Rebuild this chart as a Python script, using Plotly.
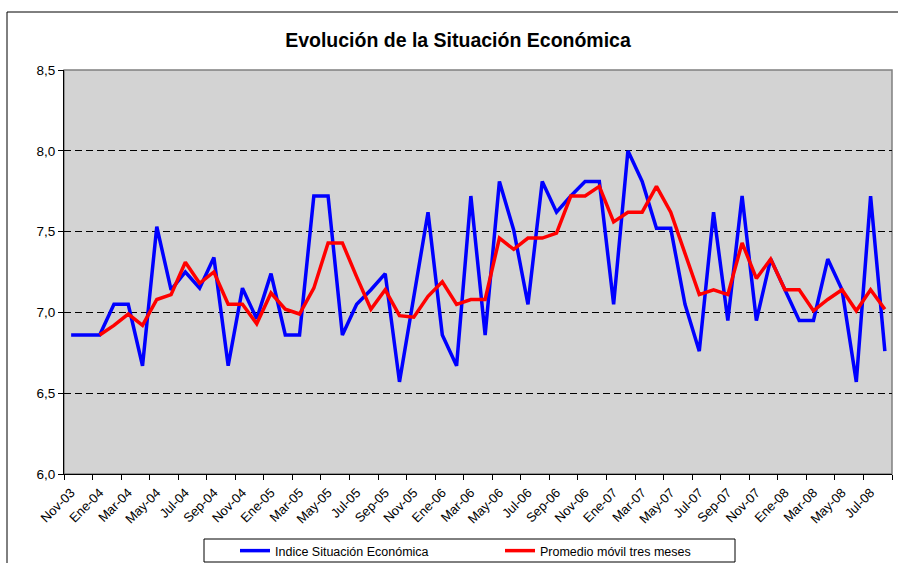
import plotly.graph_objects as go

months = [
    "Nov-03", "Dic-03",
    "Ene-04", "Feb-04", "Mar-04", "Abr-04", "May-04", "Jun-04", "Jul-04", "Ago-04", "Sep-04", "Oct-04", "Nov-04", "Dic-04",
    "Ene-05", "Feb-05", "Mar-05", "Abr-05", "May-05", "Jun-05", "Jul-05", "Ago-05", "Sep-05", "Oct-05", "Nov-05", "Dic-05",
    "Ene-06", "Feb-06", "Mar-06", "Abr-06", "May-06", "Jun-06", "Jul-06", "Ago-06", "Sep-06", "Oct-06", "Nov-06", "Dic-06",
    "Ene-07", "Feb-07", "Mar-07", "Abr-07", "May-07", "Jun-07", "Jul-07", "Ago-07", "Sep-07", "Oct-07", "Nov-07", "Dic-07",
    "Ene-08", "Feb-08", "Mar-08", "Abr-08", "May-08", "Jun-08", "Jul-08", "Ago-08",
]

indice = [
    6.86, 6.86, 6.86, 7.05, 7.05, 6.67, 7.53, 7.14, 7.25, 7.15,
    7.34, 6.67, 7.15, 6.96, 7.24, 6.86, 6.86, 7.72, 7.72, 6.86,
    7.05, 7.14, 7.24, 6.57, 7.10, 7.62, 6.86, 6.67, 7.72, 6.86,
    7.81, 7.51, 7.05, 7.81, 7.62, 7.72, 7.81, 7.81, 7.05, 8.00,
    7.81, 7.52, 7.52, 7.05, 6.76, 7.62, 6.95, 7.72, 6.95, 7.33,
    7.14, 6.95, 6.95, 7.33, 7.14, 6.57, 7.72, 6.76,
]

promedio = [
    None, None, 6.86, 6.92, 6.99, 6.92, 7.08, 7.11, 7.31, 7.18,
    7.25, 7.05, 7.05, 6.93, 7.12, 7.02, 6.99, 7.15, 7.43, 7.43,
    7.22, 7.02, 7.14, 6.98, 6.97, 7.10, 7.19, 7.05, 7.08, 7.08,
    7.46, 7.39, 7.46, 7.46, 7.49, 7.72, 7.72, 7.78, 7.56, 7.62,
    7.62, 7.78, 7.62, 7.36, 7.11, 7.14, 7.11, 7.43, 7.21, 7.33,
    7.14, 7.14, 7.01, 7.08, 7.14, 7.01, 7.14, 7.02,
]

y_ticks = [6.0, 6.5, 7.0, 7.5, 8.0, 8.5]

xs = list(range(len(months)))
FONT = "Arial, Liberation Sans, sans-serif"

fig = go.Figure()
fig.add_trace(go.Scatter(x=xs, y=indice, mode="lines", name="Indice Situación Económica",
                         line=dict(color="#0000FF", width=3.5)))
fig.add_trace(go.Scatter(x=xs, y=promedio, mode="lines", name="Promedio móvil tres meses",
                         line=dict(color="#FF0000", width=3.5)))

W, H = 898, 563
L, R, T, B = 64, 6, 70, 89
pw, ph = W - L - R, H - T - B

def px_x(p):
    return (p - L) / pw

def px_y(p):
    return (H - B - p) / ph

fig.update_layout(
    width=W, height=H,
    margin=dict(l=L, r=R, t=T, b=B, pad=0, autoexpand=False),
    paper_bgcolor="white",
    plot_bgcolor="#d3d3d3",
    separators=",.",
    font=dict(family=FONT, color="black"),
    title=dict(text="<b>Evolución de la Situación Económica</b>", font=dict(size=19.5, family=FONT),
               x=px_x(458), xref="paper", xanchor="center", y=1 - 40 / H, yref="container", yanchor="middle"),
    showlegend=True,
    legend=dict(orientation="h", x=px_x(235), xanchor="left", y=px_y(551), yanchor="middle",
                bgcolor="rgba(0,0,0,0)", borderwidth=0, font=dict(size=12.5, family=FONT),
                entrywidth=220, entrywidthmode="pixels", itemwidth=30),
    xaxis=dict(
        range=[-0.5, len(months) - 0.5],
        tickmode="array", tickvals=xs[::2], ticktext=months[::2],
        tickangle=-45, tickfont=dict(size=13, family=FONT),
        ticks="outside", ticklen=5, tickcolor="rgba(0,0,0,0)",
        showgrid=False, zeroline=False,
        showline=True, linecolor="black", linewidth=1,
        minor=dict(tickmode="linear", tick0=-0.5, dtick=2, ticks="outside", ticklen=5,
                   tickcolor="black", tickwidth=1, showgrid=False),
    ),
    yaxis=dict(
        range=[6.0, 8.5], tickmode="array", tickvals=y_ticks, tickformat=".1f",
        tickfont=dict(size=13.5, family=FONT),
        ticks="outside", ticklen=5, tickcolor="black",
        showgrid=True, gridcolor="black", gridwidth=1, griddash="7px,4px",
        zeroline=False, showline=True, linecolor="black", linewidth=1,
    ),
    shapes=[
        dict(type="rect", xref="paper", yref="paper", x0=0, x1=1, y0=0, y1=1,
             line=dict(color="#808080", width=1.5), layer="below"),
        dict(type="rect", xref="paper", yref="paper", x0=px_x(7), x1=px_x(910), y0=px_y(12), y1=px_y(575),
             line=dict(color="black", width=1)),
        dict(type="rect", xref="paper", yref="paper", x0=px_x(204), x1=px_x(735), y0=px_y(539), y1=px_y(562),
             line=dict(color="black", width=1), fillcolor="white", layer="below"),
    ],
)

fig.write_html("out.html", config={"displayModeBar": False},
               post_script="document.body.style.margin='0';document.body.style.overflow='hidden';")
